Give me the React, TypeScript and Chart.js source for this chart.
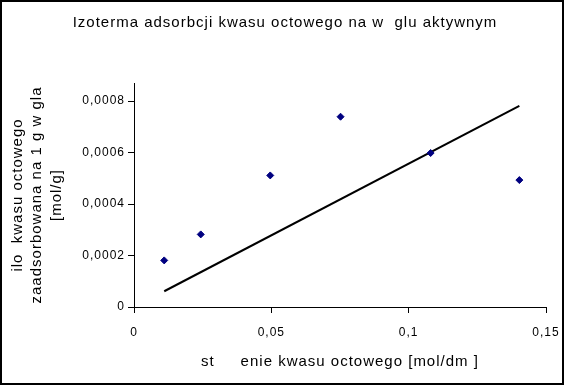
import React, { useEffect, useRef } from 'react';
import { Chart, registerables } from 'chart.js';

Chart.register(...registerables);

const titleText = 'Izoterma adsorbcji kwasu octowego na w  glu aktywnym';
const xTitle = 'st     enie kwasu octowego [mol/dm ]';
const yTitleLines = ['ilo  kwasu octowego', 'zaadsorbowana na 1 g w gla', '[mol/g]'];

const concentration = [0.011, 0.0243, 0.0496, 0.0752, 0.108, 0.1403];
const adsorbed = [0.000181, 0.000282, 0.000511, 0.000739, 0.000598, 0.000493];

const trendX = [0.011, 0.1403];
const trendY = [0.0000612, 0.000781];

const xTicks = [0, 0.05, 0.1, 0.15];
const yTicks = [0, 0.0002, 0.0004, 0.0006, 0.0008];

const FONT = "'Liberation Sans', Arial, sans-serif";

const fmt = (v: number, d: number) => String(Number(v.toFixed(d))).replace('.', ',');

const spacingPlugin = {
  id: 'letterSpacing',
  beforeUpdate(chart: any) {
    chart.ctx.letterSpacing = '1px';
  },
  beforeDraw(chart: any) {
    chart.ctx.letterSpacing = '1px';
  },
};

export default function App() {
  const ref = useRef<HTMLCanvasElement | null>(null);

  useEffect(() => {
    if (!ref.current) return;
    const chart = new Chart(ref.current, {
      type: 'scatter',
      plugins: [spacingPlugin],
      data: {
        datasets: [
          {
            label: 'dane',
            data: concentration.map((x, i) => ({ x, y: adsorbed[i] })),
            pointStyle: 'rectRot',
            pointRadius: 3.5,
            pointBorderWidth: 1,
            backgroundColor: '#000080',
            borderColor: '#000080',
            showLine: false,
          },
          {
            label: 'trend',
            data: trendX.map((x, i) => ({ x, y: trendY[i] })),
            showLine: true,
            borderColor: '#000000',
            borderWidth: 2,
            pointRadius: 0,
            fill: false,
          },
        ],
      },
      options: {
        animation: false,
        responsive: false,
        devicePixelRatio: 1,
        layout: { padding: { left: 6, right: 0, top: 0, bottom: 0 } },
        plugins: {
          legend: { display: false },
          tooltip: { enabled: false },
          title: {
            display: true,
            text: titleText,
            color: '#000',
            font: { family: FONT, size: 15, weight: 'normal' },
            padding: { top: 14, bottom: 51 },
          },
        },
        scales: {
          x: {
            type: 'linear',
            position: 'bottom',
            min: 0,
            max: 0.15,
            afterBuildTicks: (s: any) => {
              s.ticks = xTicks.map((v) => ({ value: v }));
            },
            afterFit: (s: any) => {
              s.height = 78;
              s.paddingRight = 18;
            },
            ticks: {
              color: '#000',
              font: { family: FONT, size: 12 },
              padding: 12,
              maxRotation: 0,
              callback: (v: any) => fmt(Number(v), 4),
            },
            grid: { drawOnChartArea: false, drawTicks: true, tickLength: 6, color: '#000' },
            border: { display: true, color: '#000', width: 1 },
            title: {
              display: true,
              text: xTitle,
              color: '#000',
              font: { family: FONT, size: 15 },
              padding: { top: 0, bottom: 14 },
            },
          },
          y: {
            type: 'linear',
            position: 'left',
            min: 0,
            max: 0.00087,
            afterBuildTicks: (s: any) => {
              s.ticks = yTicks.map((v) => ({ value: v }));
            },
            afterFit: (s: any) => {
              s.width = 128;
            },
            ticks: {
              color: '#000',
              font: { family: FONT, size: 12 },
              padding: 3,
              callback: (v: any) => fmt(Number(v), 6),
            },
            grid: { drawOnChartArea: false, drawTicks: true, tickLength: 6, color: '#000' },
            border: { display: true, color: '#000', width: 1 },
            title: {
              display: true,
              text: yTitleLines,
              color: '#000',
              font: { family: FONT, size: 15, lineHeight: 1.3 },
              padding: { top: 2, bottom: 0 },
            },
          },
        },
      },
    });
    return () => chart.destroy();
  }, []);

  return (
    <div style={{ position: 'absolute', left: 0, top: 0, width: 564, height: 385, background: '#fff' }}>
      <div
        style={{
          position: 'absolute',
          left: 0,
          top: 0,
          width: 564,
          height: 385,
          boxSizing: 'border-box',
          border: '2px solid #000',
        }}
      />
      <canvas
        ref={ref}
        width={564}
        height={385}
        style={{ position: 'absolute', left: 0, top: 0, width: 564, height: 385 }}
      />
    </div>
  );
}
